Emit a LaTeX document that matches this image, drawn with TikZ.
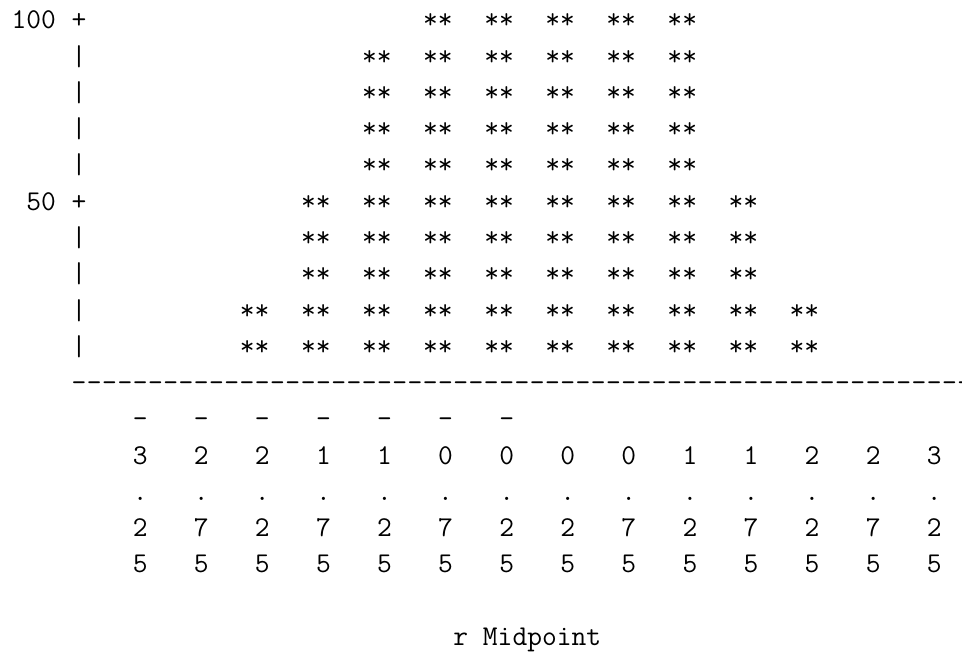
\documentclass[tikz,border=0pt]{standalone}
\usepackage{tikz}
\usetikzlibrary{positioning}
\def\cw{15.27}
\def\rh{36.25}
\tikzstyle{glyph} = [inner sep=0pt, anchor=base, font=\ttfamily\fontsize{21.5}{27}\selectfont]
\tikzstyle{bar} = [glyph]
\tikzstyle{tick} = [glyph]

\begin{document}
\begin{tikzpicture}[x=0.75pt, y=-0.75pt]
\useasboundingbox (0,0) rectangle (962,652);

% Vertical axis
\node[glyph, anchor=base east] (y100) at ({18+2.5*\cw}, {29+0*\rh}) {100};
\node[glyph, anchor=base east] (y50) at ({18+2.5*\cw}, {29+5*\rh}) {50};
\foreach \r in {0,5}
  \node[glyph] (plus\r) at ({18+4*\cw}, {29+\r*\rh}) {+};
\foreach \r in {1,2,3,4,6,7,8,9}
  \node[glyph] (bar\r) at ({18+4*\cw}, {29+\r*\rh}) {|};

% Bars
\foreach \j/\h in {2/2,3/5,4/9,5/10,6/10,7/10,8/10,9/10,10/5,11/2}
  \foreach \r in {1,...,\h}
    \node[bar] (b\j-\r) at ({18+(7.5+4*\j)*\cw}, {29+(10-\r)*\rh}) {**};

% Horizontal axis
\foreach \k in {5,...,64}
  \node[glyph] (d\k) at ({18+(\k-1)*\cw}, {29+10*\rh}) {-};

% Midpoints
\foreach \j in {0,...,6}
  \node[tick] (m\j) at ({18+(8+4*\j)*\cw}, {29+11*\rh}) {-};
\foreach \j/\a/\b in {0/3/2,1/2/7,2/2/2,3/1/7,4/1/2,5/0/7,6/0/2,7/0/2,8/0/7,9/1/2,10/1/7,11/2/2,12/2/7,13/3/2} {
  \node[tick] (u\j) at ({18+(8+4*\j)*\cw}, {29+12*\rh}) {\a};
  \node[tick] (p\j) at ({18+(8+4*\j)*\cw}, {29+13*\rh}) {.};
  \node[tick] (t\j) at ({18+(8+4*\j)*\cw}, {29+14*\rh}) {\b};
  \node[tick] (f\j) at ({18+(8+4*\j)*\cw}, {29+15*\rh}) {5};
}

% Label
\node[glyph, anchor=base west] (xlab) at ({18+28.5*\cw}, {29+17*\rh}) {r Midpoint};
\end{tikzpicture}
\end{document}
